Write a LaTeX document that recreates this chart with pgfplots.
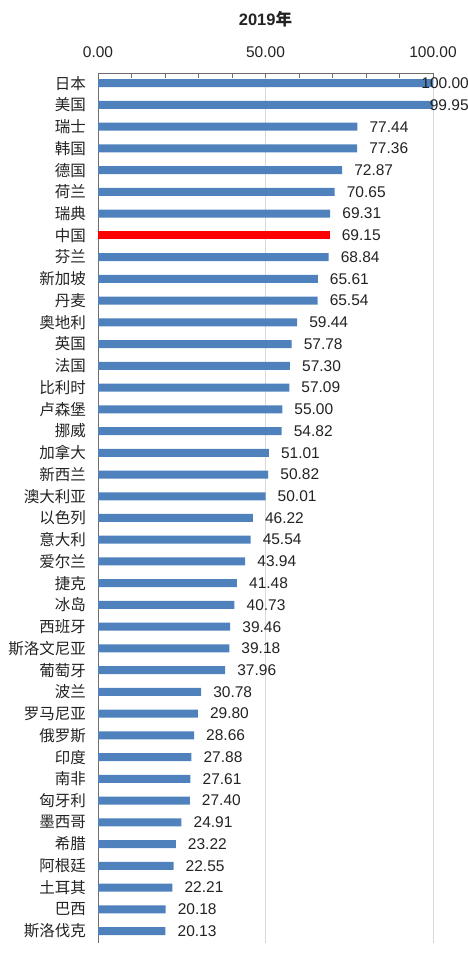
\documentclass[border=0pt]{standalone}
\usepackage{fontspec}
\setmainfont{Liberation Sans}
\newfontfamily\cjk{Noto Sans CJK SC}
\usepackage{pgfplots}
\pgfplotsset{compat=1.18}
\definecolor{barblue}{RGB}{79,129,189}
\definecolor{barred}{RGB}{255,0,0}
\definecolor{axgray}{RGB}{110,110,110}
\definecolor{gridgray}{RGB}{217,217,217}
\definecolor{txt}{RGB}{35,35,35}
\begin{document}
\begin{tikzpicture}[x=1pt,y=1pt]
\useasboundingbox (0,0) rectangle (467,960);
\begin{axis}[
  at={(98pt,17pt)}, anchor=south west,
  width=335pt, height=870pt, scale only axis,
  xbar, bar width=8pt, bar shift=0pt,
  xmin=0, xmax=100,
  ymin=-39.55, ymax=0.47,
  axis x line*=top, axis y line*=left,
  axis line style={axgray, line width=0.9pt},
  xtick={0,50,100}, xticklabels={0.00,50.00,100.00},
  minor x tick num=4,
  tick align=inside,
  major tick length=5pt, minor tick length=5pt,
  x tick style={axgray, line width=0.8pt},
  xmajorgrids, major grid style={gridgray, line width=0.8pt},
  xticklabel style={anchor=base, inner sep=0pt, yshift=15.7pt, font=\fontsize{15.5}{17}\selectfont, text=txt},
  ytick={-39,-38,...,0},
  yticklabels={斯洛伐克,巴西,土耳其,阿根廷,希腊,墨西哥,匈牙利,南非,印度,俄罗斯,罗马尼亚,波兰,葡萄牙,斯洛文尼亚,西班牙,冰岛,捷克,爱尔兰,意大利,以色列,澳大利亚,新西兰,加拿大,挪威,卢森堡,比利时,法国,英国,奥地利,丹麦,新加坡,芬兰,中国,瑞典,荷兰,德国,韩国,瑞士,美国,日本},
  y tick style={draw=none},
  yticklabel style={anchor=east, inner sep=0pt, xshift=-12pt, font=\cjk\fontsize{15.5}{17}\selectfont, text=txt},
  title={\textbf{2019{\cjk 年}}},
  title style={at={(0.5,1)}, anchor=base, inner sep=0pt, yshift=41pt, font=\fontsize{16.5}{18}\selectfont, text=txt},
  point meta=explicit symbolic,
  nodes near coords,
  nodes near coords style={anchor=west, inner sep=0pt, xshift=12pt, font=\fontsize{15.5}{17}\selectfont, text=txt},
  clip=false,
]
% Japan, USA (labels pulled back inside the chart)
\addplot[draw=none, fill=barblue, nodes near coords style={anchor=east, xshift=24pt}] table[x=v, y=i, meta=l] {
i v l
0 100.00 100.00
-1 99.95 99.95
};
% China
\addplot[draw=none, fill=barred] table[x=v, y=i, meta=l] {
i v l
-7 69.15 69.15
};
% others
\addplot[draw=none, fill=barblue] table[x=v, y=i, meta=l] {
i v l
-2 77.44 77.44
-3 77.36 77.36
-4 72.87 72.87
-5 70.65 70.65
-6 69.31 69.31
-8 68.84 68.84
-9 65.61 65.61
-10 65.54 65.54
-11 59.44 59.44
-12 57.78 57.78
-13 57.30 57.30
-14 57.09 57.09
-15 55.00 55.00
-16 54.82 54.82
-17 51.01 51.01
-18 50.82 50.82
-19 50.01 50.01
-20 46.22 46.22
-21 45.54 45.54
-22 43.94 43.94
-23 41.48 41.48
-24 40.73 40.73
-25 39.46 39.46
-26 39.18 39.18
-27 37.96 37.96
-28 30.78 30.78
-29 29.80 29.80
-30 28.66 28.66
-31 27.88 27.88
-32 27.61 27.61
-33 27.40 27.40
-34 24.91 24.91
-35 23.22 23.22
-36 22.55 22.55
-37 22.21 22.21
-38 20.18 20.18
-39 20.13 20.13
};
\end{axis}
\end{tikzpicture}
\end{document}
